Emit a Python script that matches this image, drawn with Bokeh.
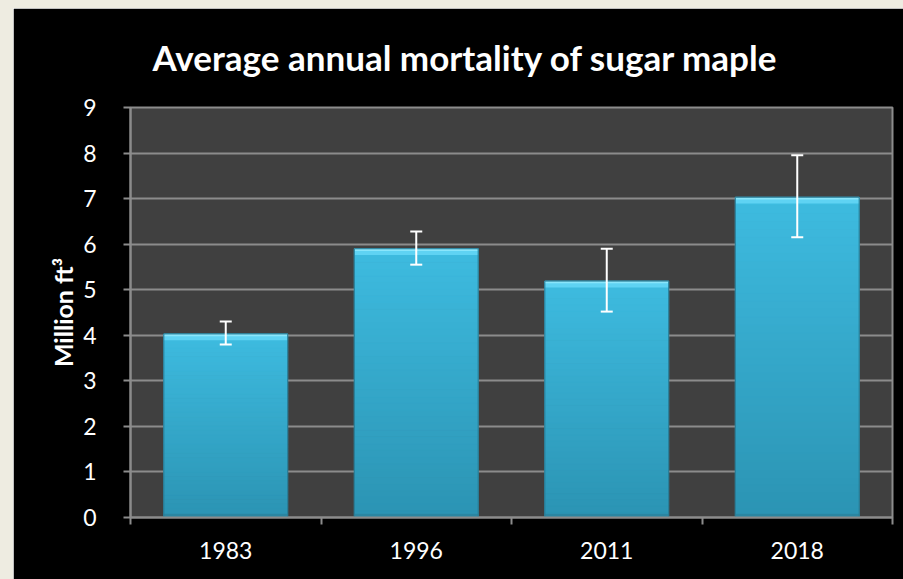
from bokeh.plotting import figure
from bokeh.models import ColumnDataSource, FixedTicker, Whisker, TeeHead, Title, Spacer, Row, Column
from bokeh.embed import file_html
from bokeh.resources import INLINE

categories = ["1983", "1996", "2011", "2018"]
values = [4.03, 5.90, 5.19, 7.03]
err_low = [3.80, 5.55, 4.52, 6.15]
err_high = [4.30, 6.28, 5.90, 7.95]
y_ticks = [0, 1, 2, 3, 4, 5, 6, 7, 8, 9]
title_text = "Average annual mortality of sugar maple"
y_label = "Million ft³"

FONT = "Lato"
GRID = "#8c8c8c"
BAR_W = 0.65
BEIGE = {"background-color": "#EEECE1"}

x_pos = [i + 0.5 for i in range(len(categories))]
boundaries = list(range(len(categories) + 1))

p = figure(width=890, height=571, x_range=(0, len(categories)), y_range=(y_ticks[0], y_ticks[-1]),
           output_backend="svg", toolbar_location=None,
           min_border_left=117, min_border_right=11, min_border_top=99, min_border_bottom=62)
p.background_fill_color = "#404040"
p.border_fill_color = "#000000"
p.outline_line_color = GRID
p.outline_line_width = 2

t = Title(text=title_text, align="left", offset=22, standoff=55, vertical_align="top",
          text_color="white", text_font=FONT, text_font_style="bold", text_font_size="35px")
p.add_layout(t, "above")

# gradient bars built as stacked slices
N = 40
top_c = (62, 188, 224)
bot_c = (44, 148, 180)
sx, sb, st, sc = [], [], [], []
for x, v in zip(x_pos, values):
    for k in range(N):
        f = k / (N - 1)
        r = int(bot_c[0] + (top_c[0] - bot_c[0]) * f)
        g = int(bot_c[1] + (top_c[1] - bot_c[1]) * f)
        b = int(bot_c[2] + (top_c[2] - bot_c[2]) * f)
        sx.append(x)
        sb.append(v * k / N)
        st.append(v * (k + 1) / N)
        sc.append("#%02x%02x%02x" % (r, g, b))
p.vbar(x=sx, bottom=sb, top=st, width=BAR_W, fill_color=sc, line_color=sc, line_width=1)

# top bevel highlight and bottom bevel shade
p.vbar(x=x_pos, bottom=[v - 0.14 for v in values], top=values, width=BAR_W,
       fill_color="#5fd3f3", line_color=None)
p.vbar(x=x_pos, bottom=[v - 0.05 for v in values], top=values, width=BAR_W,
       fill_color="#8ae6fb", line_color=None)
p.vbar(x=x_pos, bottom=[0] * len(values), top=[0.08] * len(values), width=BAR_W,
       fill_color="#2a86a2", line_color=None)
p.vbar(x=x_pos, bottom=[0] * len(values), top=values, width=BAR_W,
       fill_color=None, line_color="#2a7b94", line_width=1)

src = ColumnDataSource(dict(x=x_pos, lower=err_low, upper=err_high))
w = Whisker(source=src, base="x", lower="lower", upper="upper", level="overlay",
            line_color="white", line_width=2,
            upper_head=TeeHead(size=12, line_color="white", line_width=2),
            lower_head=TeeHead(size=12, line_color="white", line_width=2))
p.add_layout(w)

p.xgrid.grid_line_color = None
p.ygrid.grid_line_color = GRID
p.ygrid.grid_line_width = 2

p.xaxis.ticker = FixedTicker(ticks=x_pos, minor_ticks=boundaries)
p.xaxis.major_label_overrides = {x: c for x, c in zip(x_pos, categories)}
p.xaxis.major_tick_out = 0
p.xaxis.major_tick_in = 0
p.xaxis.minor_tick_out = 7
p.xaxis.minor_tick_in = 0
p.xaxis.minor_tick_line_color = GRID
p.xaxis.minor_tick_line_width = 2
p.xaxis.major_label_standoff = 17

p.yaxis.ticker = FixedTicker(ticks=y_ticks, minor_ticks=[])
p.yaxis.major_tick_out = 7
p.yaxis.major_tick_in = 0
p.yaxis.major_tick_line_color = GRID
p.yaxis.major_tick_line_width = 2
p.yaxis.major_label_standoff = 27
p.yaxis.axis_label = y_label
p.yaxis.axis_label_standoff = 2
p.yaxis.axis_label_text_color = "white"
p.yaxis.axis_label_text_font = FONT
p.yaxis.axis_label_text_font_style = "bold"
p.yaxis.axis_label_text_font_size = "25px"

for ax in (p.xaxis, p.yaxis):
    ax.axis_line_color = GRID
    ax.axis_line_width = 2
    ax.major_label_text_color = "white"
    ax.major_label_text_font = FONT
    ax.major_label_text_font_size = "23px"

layout = Row(children=[
    Spacer(width=13, height=579, styles=BEIGE),
    Column(children=[Spacer(width=890, height=8, styles=BEIGE), p]),
])

open("out.html", "w").write(file_html(layout, INLINE))
